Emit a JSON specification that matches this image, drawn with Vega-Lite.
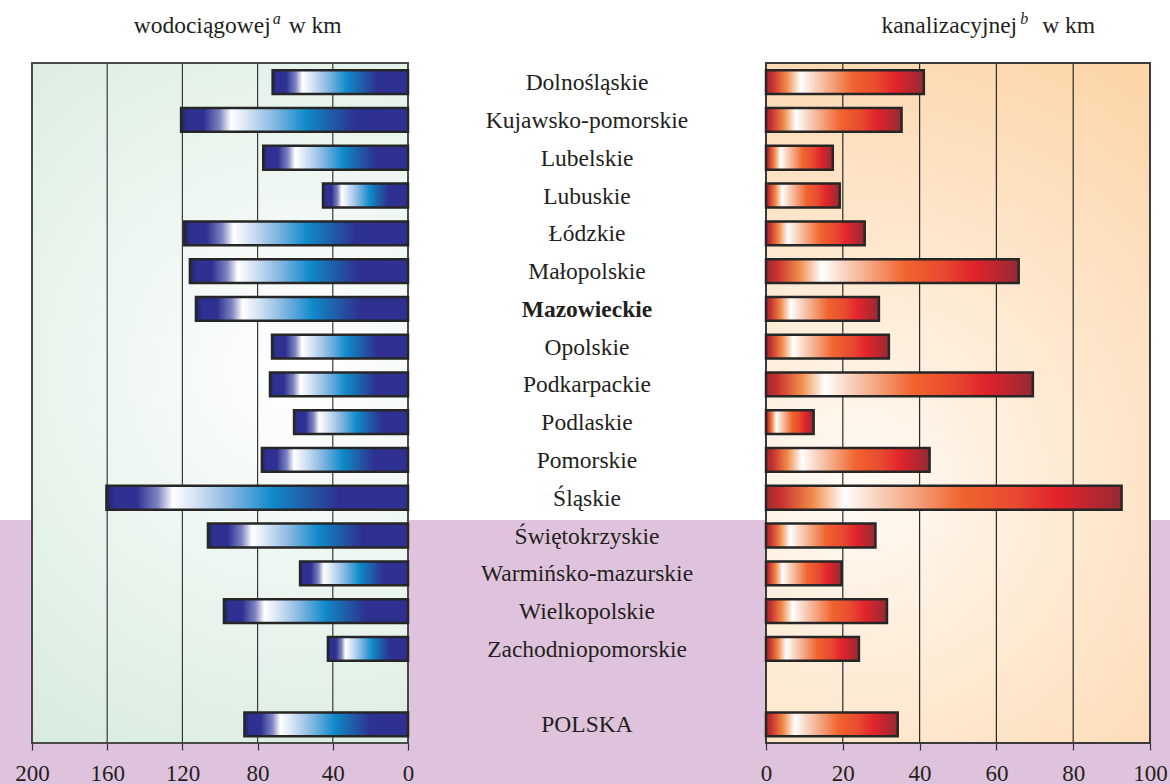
{
  "$schema": "https://vega.github.io/schema/vega-lite/v6.json",
  "width": 1170,
  "height": 784,
  "padding": 0,
  "autosize": "none",
  "background": "#ffffff",
  "config": {"view": {"stroke": null}, "font": "Liberation Serif"},
  "datasets": {
    "regions": [
      {"region": "Dolnośląskie", "wodociagowa": 72, "kanalizacyjna": 41.1},
      {"region": "Kujawsko-pomorskie", "wodociagowa": 120.7, "kanalizacyjna": 35.3},
      {"region": "Lubelskie", "wodociagowa": 77, "kanalizacyjna": 17.4},
      {"region": "Lubuskie", "wodociagowa": 45.2, "kanalizacyjna": 19.2},
      {"region": "Łódzkie", "wodociagowa": 119, "kanalizacyjna": 25.7},
      {"region": "Małopolskie", "wodociagowa": 116, "kanalizacyjna": 65.8},
      {"region": "Mazowieckie", "wodociagowa": 112.8, "kanalizacyjna": 29.4},
      {"region": "Opolskie", "wodociagowa": 72.3, "kanalizacyjna": 32},
      {"region": "Podkarpackie", "wodociagowa": 73.4, "kanalizacyjna": 69.5},
      {"region": "Podlaskie", "wodociagowa": 60.6, "kanalizacyjna": 12.4},
      {"region": "Pomorskie", "wodociagowa": 77.7, "kanalizacyjna": 42.6},
      {"region": "Śląskie", "wodociagowa": 160.4, "kanalizacyjna": 92.6},
      {"region": "Świętokrzyskie", "wodociagowa": 106.4, "kanalizacyjna": 28.5},
      {"region": "Warmińsko-mazurskie", "wodociagowa": 57.4, "kanalizacyjna": 19.7},
      {"region": "Wielkopolskie", "wodociagowa": 97.9, "kanalizacyjna": 31.5},
      {"region": "Zachodniopomorskie", "wodociagowa": 42.6, "kanalizacyjna": 24.2},
      {"region": "POLSKA", "wodociagowa": 87, "kanalizacyjna": 34.3}
    ],
    "gridLeft": [{"v": 40}, {"v": 80}, {"v": 120}, {"v": 160}],
    "gridRight": [{"v": 20}, {"v": 40}, {"v": 60}, {"v": 80}]
  },
  "resolve": {"scale": {"x": "independent"}, "axis": {"x": "independent"}},
  "layer": [
    {
      "data": {"name": "regions"},
      "mark": {"type": "rect", "fill": "#dfc3dc"},
      "encoding": {
        "x": {"value": 0},
        "x2": {"value": "width"},
        "y": {"datum": "Świętokrzyskie", "bandPosition": 0.11,
              "scale": {"domain": ["Dolnośląskie","Kujawsko-pomorskie","Lubelskie","Lubuskie","Łódzkie","Małopolskie","Mazowieckie","Opolskie","Podkarpackie","Podlaskie","Pomorskie","Śląskie","Świętokrzyskie","Warmińsko-mazurskie","Wielkopolskie","Zachodniopomorskie"," ","POLSKA"], "range": [63.3, 743.3], "paddingInner": 0, "paddingOuter": 0},
              "axis": null},
        "y2": {"value": "height"}
      }
    },
    {
      "layer": [
        {
          "data": {"name": "regions"},
          "mark": {"type": "rect", "fill": {"gradient": "radial", "x1": 0.62, "y1": 0.45, "r1": 0, "x2": 0.62, "y2": 0.45, "r2": 0.75,
            "stops": [{"offset": 0, "color": "#ffffff"}, {"offset": 1, "color": "#d3e9da"}]}},
          "encoding": {
            "x": {"datum": 200, "type": "quantitative", "scale": {"domain": [-405.32, 217.02], "reverse": true, "nice": false, "zero": false}},
            "x2": {"datum": 0},
            "y": {"datum": "Dolnośląskie", "bandPosition": 0},
            "y2": {"datum": "POLSKA", "bandPosition": 1}
          }
        },
        {
          "data": {"name": "gridLeft"},
          "mark": {"type": "rule", "color": "#3a3a3a", "strokeWidth": 1.2},
          "encoding": {
            "x": {"field": "v", "type": "quantitative"},
            "y": {"datum": "Dolnośląskie", "bandPosition": 0},
            "y2": {"datum": "POLSKA", "bandPosition": 1}
          }
        },
        {
          "data": {"name": "regions"},
          "mark": {"type": "rect", "fill": null, "stroke": "#4a4a4a", "strokeWidth": 1.6},
          "encoding": {
            "x": {"datum": 200, "type": "quantitative"},
            "x2": {"datum": 0},
            "y": {"datum": "Dolnośląskie", "bandPosition": 0},
            "y2": {"datum": "POLSKA", "bandPosition": 1}
          }
        },
        {
          "data": {"name": "regions"},
          "mark": {"type": "bar", "height": {"band": 0.63}, "stroke": "#262626", "strokeWidth": 2.5,
            "fill": {"gradient": "linear", "x1": 0, "y1": 0, "x2": 1, "y2": 0,
              "stops": [
                {"offset": 0, "color": "#22265f"},
                {"offset": 0.03, "color": "#2e3192"},
                {"offset": 0.10, "color": "#2e3192"},
                {"offset": 0.17, "color": "#7e85c2"},
                {"offset": 0.22, "color": "#ffffff"},
                {"offset": 0.27, "color": "#e4ecf7"},
                {"offset": 0.40, "color": "#8dbbe3"},
                {"offset": 0.55, "color": "#0f8acb"},
                {"offset": 0.66, "color": "#1f5ea7"},
                {"offset": 0.77, "color": "#2e3192"},
                {"offset": 1, "color": "#2e3192"}
              ]}},
          "encoding": {
            "x": {"field": "wodociagowa", "type": "quantitative",
                  "axis": {"values": [0, 40, 80, 120, 160, 200], "orient": "bottom", "offset": -41, "domain": false, "grid": false, "zindex": 2,
                           "tickSize": 7, "tickColor": "#333333", "tickWidth": 1.2, "labelFont": "Liberation Serif", "labelFontSize": 23,
                           "labelColor": "#231f20", "labelPadding": 12, "title": null, "labelFlush": false, "labelOverlap": false}},
            "x2": {"datum": 0},
            "y": {"field": "region", "type": "nominal"}
          }
        },
        {
          "data": {"values": [{"t": "wodociągowej"}]},
          "mark": {"type": "text", "align": "right", "baseline": "alphabetic", "fontSize": 23.5, "color": "#231f20", "dy": -49},
          "encoding": {
            "x": {"datum": 73, "type": "quantitative"},
            "y": {"datum": "Dolnośląskie"},
            "text": {"field": "t"}
          }
        },
        {
          "data": {"values": [{"t": "a"}]},
          "mark": {"type": "text", "align": "left", "baseline": "alphabetic", "fontSize": 16, "fontStyle": "italic", "color": "#231f20", "dy": -58, "dx": 2},
          "encoding": {
            "x": {"datum": 73, "type": "quantitative"},
            "y": {"datum": "Dolnośląskie"},
            "text": {"field": "t"}
          }
        },
        {
          "data": {"values": [{"t": "w km"}]},
          "mark": {"type": "text", "align": "left", "baseline": "alphabetic", "fontSize": 23.5, "color": "#231f20", "dy": -49, "dx": 18},
          "encoding": {
            "x": {"datum": 73, "type": "quantitative"},
            "y": {"datum": "Dolnośląskie"},
            "text": {"field": "t"}
          }
        }
      ]
    },
    {
      "layer": [
        {
          "data": {"name": "regions"},
          "mark": {"type": "rect", "fill": {"gradient": "radial", "x1": 0.35, "y1": 0.62, "r1": 0, "x2": 0.35, "y2": 0.62, "r2": 0.72,
            "stops": [{"offset": 0, "color": "#fffaf4"}, {"offset": 1, "color": "#fcd5a9"}]}},
          "encoding": {
            "x": {"datum": 0, "type": "quantitative", "scale": {"domain": [-199.48, 105.21], "nice": false, "zero": false}},
            "x2": {"datum": 100},
            "y": {"datum": "Dolnośląskie", "bandPosition": 0},
            "y2": {"datum": "POLSKA", "bandPosition": 1}
          }
        },
        {
          "data": {"name": "gridRight"},
          "mark": {"type": "rule", "color": "#2a2a2a", "strokeWidth": 1.2},
          "encoding": {
            "x": {"field": "v", "type": "quantitative"},
            "y": {"datum": "Dolnośląskie", "bandPosition": 0},
            "y2": {"datum": "POLSKA", "bandPosition": 1}
          }
        },
        {
          "data": {"name": "regions"},
          "mark": {"type": "rect", "fill": null, "stroke": "#3a3a3a", "strokeWidth": 1.6},
          "encoding": {
            "x": {"datum": 0, "type": "quantitative"},
            "x2": {"datum": 100},
            "y": {"datum": "Dolnośląskie", "bandPosition": 0},
            "y2": {"datum": "POLSKA", "bandPosition": 1}
          }
        },
        {
          "data": {"name": "regions"},
          "mark": {"type": "bar", "height": {"band": 0.63}, "stroke": "#262626", "strokeWidth": 2.5,
            "fill": {"gradient": "linear", "x1": 0, "y1": 0, "x2": 1, "y2": 0,
              "stops": [
                {"offset": 0, "color": "#9e2a30"},
                {"offset": 0.04, "color": "#c8302e"},
                {"offset": 0.13, "color": "#f08a48"},
                {"offset": 0.22, "color": "#ffffff"},
                {"offset": 0.30, "color": "#f9d8c6"},
                {"offset": 0.42, "color": "#f4a27c"},
                {"offset": 0.55, "color": "#f0642e"},
                {"offset": 0.70, "color": "#e84a30"},
                {"offset": 0.82, "color": "#e2232b"},
                {"offset": 1, "color": "#952a34"}
              ]}},
          "encoding": {
            "x": {"field": "kanalizacyjna", "type": "quantitative",
                  "axis": {"values": [0, 20, 40, 60, 80, 100], "orient": "bottom", "offset": -41, "domain": false, "grid": false, "zindex": 2,
                           "tickSize": 7, "tickColor": "#333333", "tickWidth": 1.2, "labelFont": "Liberation Serif", "labelFontSize": 23,
                           "labelColor": "#231f20", "labelPadding": 12, "title": null, "labelFlush": false, "labelOverlap": false}},
            "x2": {"datum": 0},
            "y": {"field": "region", "type": "nominal"}
          }
        },
        {
          "data": {"values": [{"t": "kanalizacyjnej"}]},
          "mark": {"type": "text", "align": "right", "baseline": "alphabetic", "fontSize": 23.5, "color": "#231f20", "dy": -49},
          "encoding": {
            "x": {"datum": 65.4, "type": "quantitative"},
            "y": {"datum": "Dolnośląskie"},
            "text": {"field": "t"}
          }
        },
        {
          "data": {"values": [{"t": "b"}]},
          "mark": {"type": "text", "align": "left", "baseline": "alphabetic", "fontSize": 16, "fontStyle": "italic", "color": "#231f20", "dy": -58, "dx": 3},
          "encoding": {
            "x": {"datum": 65.4, "type": "quantitative"},
            "y": {"datum": "Dolnośląskie"},
            "text": {"field": "t"}
          }
        },
        {
          "data": {"values": [{"t": "w km"}]},
          "mark": {"type": "text", "align": "left", "baseline": "alphabetic", "fontSize": 23.5, "color": "#231f20", "dy": -49, "dx": 25},
          "encoding": {
            "x": {"datum": 65.4, "type": "quantitative"},
            "y": {"datum": "Dolnośląskie"},
            "text": {"field": "t"}
          }
        }
      ]
    },
    {
      "data": {"name": "regions"},
      "transform": [{"filter": "datum.region !== 'Mazowieckie'"}],
      "mark": {"type": "text", "align": "center", "baseline": "middle", "fontSize": 23.5, "color": "#231f20", "dy": 1},
      "encoding": {
        "x": {"value": {"expr": "width / 2 + 2"}},
        "y": {"field": "region", "type": "nominal"},
        "text": {"field": "region"}
      }
    },
    {
      "data": {"name": "regions"},
      "transform": [{"filter": "datum.region === 'Mazowieckie'"}],
      "mark": {"type": "text", "align": "center", "baseline": "middle", "fontSize": 23.5, "fontWeight": "bold", "color": "#231f20", "dy": 1},
      "encoding": {
        "x": {"value": {"expr": "width / 2 + 2"}},
        "y": {"field": "region", "type": "nominal"},
        "text": {"field": "region"}
      }
    }
  ]
}
